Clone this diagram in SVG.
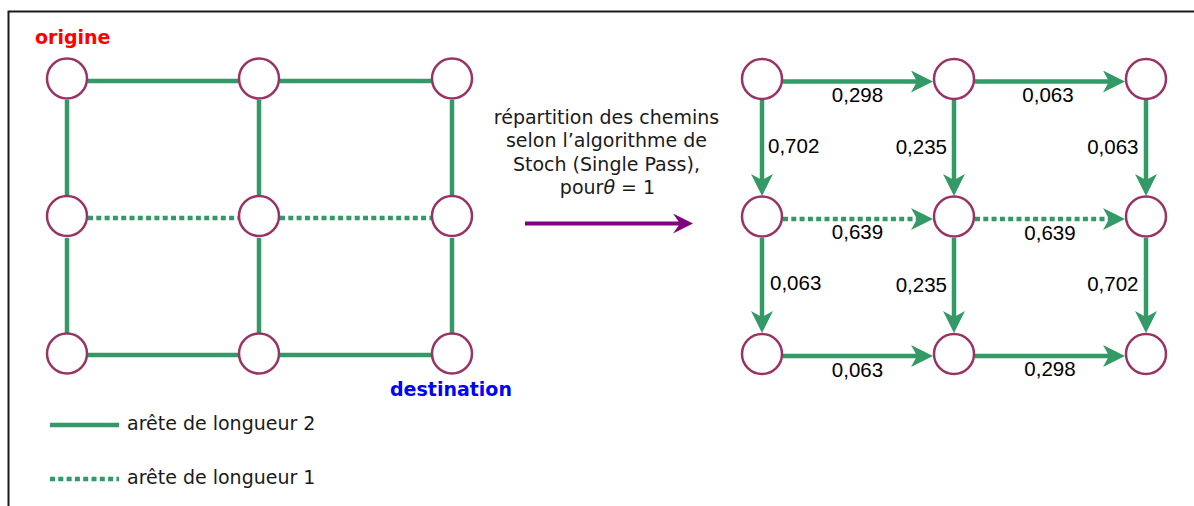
<svg xmlns="http://www.w3.org/2000/svg" width="1194" height="506" viewBox="0 0 1194 506">
<style>
.node{fill:#ffffff;stroke:#993366;stroke-width:2.5}
.e{stroke:#339966;stroke-width:4.5;fill:none}
.d{stroke-dasharray:5 3.3}
.lbl{font-family:"Liberation Sans",Arial,sans-serif;font-size:20.5px;fill:#000}
.txt{font-family:"DejaVu Sans",Verdana,sans-serif;font-size:19px;fill:#1a1a1a}
.bold{font-family:"DejaVu Sans",Verdana,sans-serif;font-size:19px;font-weight:bold}
</style>
<defs>
<marker id="ah" markerUnits="userSpaceOnUse" markerWidth="22" markerHeight="22" viewBox="0 0 22 22" refX="7" refY="11" orient="auto">
<path d="M22,11 L0,0 L6,11 L0,22 Z" fill="#339966"/>
</marker>
<marker id="ap" markerUnits="userSpaceOnUse" markerWidth="20" markerHeight="20" viewBox="0 0 20 20" refX="8" refY="10" orient="auto">
<path d="M20,10 L0,0 L7,10 L0,20 Z" fill="#800080"/>
</marker>
</defs>
<rect x="0" y="0" width="1194" height="506" fill="#ffffff"/>
<rect x="8.5" y="11.5" width="1200" height="600" fill="none" stroke="#1a1a1a" stroke-width="2"/>

<g id="connectors">
<!-- left graph -->
<line class="e" x1="88" y1="81" x2="238" y2="81"/>
<line class="e" x1="280" y1="81" x2="431" y2="81"/>
<line class="e d" x1="88" y1="218" x2="238" y2="218"/>
<line class="e d" x1="280" y1="218" x2="431" y2="218"/>
<line class="e" x1="88" y1="355" x2="238" y2="355"/>
<line class="e" x1="280" y1="355" x2="431" y2="355"/>
<line class="e" x1="67" y1="100" x2="67" y2="196"/>
<line class="e" x1="67" y1="238" x2="67" y2="333"/>
<line class="e" x1="259" y1="100" x2="259" y2="196"/>
<line class="e" x1="259" y1="238" x2="259" y2="333"/>
<line class="e" x1="452" y1="100" x2="452" y2="196"/>
<line class="e" x1="452" y1="238" x2="452" y2="333"/>
<!-- middle arrow -->
<line x1="525" y1="223.5" x2="681" y2="223.5" stroke="#800080" stroke-width="4" marker-end="url(#ap)"/>
<!-- right graph -->
<line class="e" x1="783" y1="81.5" x2="918" y2="81.5" marker-end="url(#ah)"/>
<line class="e" x1="975" y1="81.5" x2="1110" y2="81.5" marker-end="url(#ah)"/>
<line class="e d" x1="783" y1="219" x2="918" y2="219" marker-end="url(#ah)"/>
<line class="e d" x1="975" y1="219" x2="1110" y2="219" marker-end="url(#ah)"/>
<line class="e" x1="783" y1="356" x2="918" y2="356" marker-end="url(#ah)"/>
<line class="e" x1="975" y1="356" x2="1110" y2="356" marker-end="url(#ah)"/>
<line class="e" x1="762" y1="100" x2="762" y2="181" marker-end="url(#ah)"/>
<line class="e" x1="762" y1="238" x2="762" y2="318" marker-end="url(#ah)"/>
<line class="e" x1="954" y1="100" x2="954" y2="181" marker-end="url(#ah)"/>
<line class="e" x1="954" y1="238" x2="954" y2="318" marker-end="url(#ah)"/>
<line class="e" x1="1146" y1="100" x2="1146" y2="181" marker-end="url(#ah)"/>
<line class="e" x1="1146" y1="238" x2="1146" y2="318" marker-end="url(#ah)"/>
<!-- edge labels -->
<text class="lbl" x="857.5" y="102" text-anchor="middle">0,298</text>
<text class="lbl" x="1048" y="102" text-anchor="middle">0,063</text>
<text class="lbl" x="857.5" y="239" text-anchor="middle">0,639</text>
<text class="lbl" x="1050" y="239.5" text-anchor="middle">0,639</text>
<text class="lbl" x="857.5" y="377" text-anchor="middle">0,063</text>
<text class="lbl" x="1050" y="375.5" text-anchor="middle">0,298</text>
<text class="lbl" x="768" y="152.5">0,702</text>
<text class="lbl" x="947" y="154" text-anchor="end">0,235</text>
<text class="lbl" x="1138.5" y="153.5" text-anchor="end">0,063</text>
<text class="lbl" x="770" y="290">0,063</text>
<text class="lbl" x="947" y="292" text-anchor="end">0,235</text>
<text class="lbl" x="1138.5" y="291" text-anchor="end">0,702</text>
</g>

<g id="left-n11"><circle class="node" cx="67" cy="78.5" r="20"/></g>
<g id="left-n12"><circle class="node" cx="259" cy="78.5" r="20"/></g>
<g id="left-n13"><circle class="node" cx="452" cy="78.5" r="20"/></g>
<g id="left-n21"><circle class="node" cx="67" cy="216" r="20"/></g>
<g id="left-n22"><circle class="node" cx="259" cy="216" r="20"/></g>
<g id="left-n23"><circle class="node" cx="452" cy="216" r="20"/></g>
<g id="left-n31"><circle class="node" cx="67" cy="353.5" r="20"/></g>
<g id="left-n32"><circle class="node" cx="259" cy="353.5" r="20"/></g>
<g id="left-n33"><circle class="node" cx="452" cy="353.5" r="20"/></g>

<g id="right-n11"><circle class="node" cx="762" cy="79" r="20"/></g>
<g id="right-n12"><circle class="node" cx="954" cy="79" r="20"/></g>
<g id="right-n13"><circle class="node" cx="1146" cy="79" r="20"/></g>
<g id="right-n21"><circle class="node" cx="762" cy="216.5" r="20"/></g>
<g id="right-n22"><circle class="node" cx="954" cy="216.5" r="20"/></g>
<g id="right-n23"><circle class="node" cx="1146" cy="216.5" r="20"/></g>
<g id="right-n31"><circle class="node" cx="762" cy="354" r="20"/></g>
<g id="right-n32"><circle class="node" cx="954" cy="354" r="20"/></g>
<g id="right-n33"><circle class="node" cx="1146" cy="354" r="20"/></g>

<g id="label-origine"><text class="bold" x="35" y="43.5" fill="#ff0000">origine</text></g>
<g id="label-destination"><text class="bold" x="390" y="396" fill="#0000ff">destination</text></g>

<g id="caption">
<text class="txt" text-anchor="middle" font-size="19.5">
<tspan x="609.5" y="123.5">répartition des chemins</tspan>
<tspan x="609.5" y="147">selon l’algorithme de</tspan>
<tspan x="609.5" y="170.5">Stoch (Single Pass),</tspan>
<tspan x="607.5" y="194">pour<tspan font-style="italic">θ</tspan> = 1</tspan>
</text>
</g>

<g id="legend">
<line class="e" x1="50" y1="425" x2="119" y2="425"/>
<text class="txt" x="127" y="430">arête de longueur 2</text>
<line class="e d" x1="50" y1="479" x2="119" y2="479"/>
<text class="txt" x="127" y="483.5">arête de longueur 1</text>
</g>
</svg>
